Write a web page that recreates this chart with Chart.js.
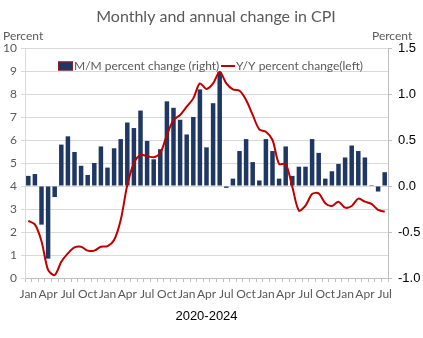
<!DOCTYPE html>
<html>
<head>
<meta charset="utf-8">
<script src="https://cdn.jsdelivr.net/npm/chart.js@4.4.1/dist/chart.umd.min.js"></script>
<style>
  html, body { margin: 0; padding: 0; background: #fff; }
  #wrap { width: 423px; height: 338px; }
</style>
</head>
<body>
<div id="wrap"><canvas id="cpi"></canvas></div>
<script>
// Månadsvis och årlig förändring i KPI, jan 2020 - jul 2024

const years = [2020, 2021, 2022, 2023, 2024];
const monthNames = ["Jan","Feb","Mar","Apr","May","Jun","Jul","Aug","Sep","Oct","Nov","Dec"];
const monthCount = 55;

// M/M (högra axeln)
const momChange = [
  0.11, 0.13, -0.42, -0.79, -0.12, 0.45, 0.54, 0.37, 0.22, 0.12, 0.25, 0.43,
  0.20, 0.41, 0.51, 0.69, 0.63, 0.82, 0.49, 0.29, 0.40, 0.92, 0.85, 0.72,
  0.56, 0.75, 1.05, 0.42, 0.90, 1.24, -0.02, 0.08, 0.38, 0.51, 0.26, 0.06,
  0.51, 0.38, 0.08, 0.43, 0.11, 0.21, 0.21, 0.51, 0.36, 0.08, 0.16, 0.24,
  0.31, 0.44, 0.38, 0.31, 0.01, -0.06, 0.15
];

// Y/Y (vänstra axeln)
const yoyChange = [
  2.48, 2.33, 1.60, 0.35, 0.13, 0.71, 1.07, 1.33, 1.36, 1.19, 1.19, 1.36,
  1.39, 1.65, 2.52, 4.04, 4.99, 5.35, 5.30, 5.25, 5.43, 6.22, 6.87, 7.09,
  7.45, 7.81, 8.46, 8.22, 8.46, 8.97, 8.46, 8.20, 8.14, 7.74, 7.09, 6.46,
  6.36, 6.00, 4.96, 4.96, 3.97, 2.93, 3.15, 3.65, 3.68, 3.25, 3.13, 3.32,
  3.06, 3.13, 3.45, 3.32, 3.22, 2.96, 2.88
];

const labels = [];
for (let i = 0; i < monthCount; i++) {
  labels.push(monthNames[i % 12] + " " + years[Math.floor(i / 12)]);
}

const gray = "#595959";
const font = "Lato, 'Open Sans', sans-serif";
const arial = "'Liberation Sans', Arial, sans-serif";

// --- egna texter: titel, "Percent" och legend inne i diagrammet ---
const extras = {
  id: "extras",
  afterDraw(chart) {
    const c = chart.ctx;
    c.save();
    c.fillStyle = gray;
    c.textBaseline = "middle";
    c.font = "16px " + font;
    c.textAlign = "center";
    c.fillText("Monthly and annual change in CPI", 216, 17);
    c.font = "12px " + font;
    c.textAlign = "left";
    c.fillText("Percent", 3, 36);
    c.fillText("Percent", 372, 36);

    // legend
    const ly = 66;
    c.fillStyle = "#1f3763";
    c.fillRect(58, ly - 4.5, 15, 9);
    c.strokeStyle = "#8b1a2a";
    c.lineWidth = 1;
    c.strokeRect(58.5, ly - 4, 14, 8);
    c.fillStyle = gray;
    c.font = "12px " + font;
    c.fillText("M/M percent change (right)", 74, ly);
    c.strokeStyle = "#c00000";
    c.lineWidth = 2;
    c.beginPath();
    c.moveTo(221, ly);
    c.lineTo(235, ly);
    c.stroke();
    c.fillText("Y/Y percent change(left)", 236, ly);
    c.restore();
  }
};

const ctx = document.getElementById("cpi").getContext("2d");
new Chart(ctx, {
  data: {
    labels,
    datasets: [
      {
        type: "line",
        label: "Y/Y percent change(left)",
        data: yoyChange,
        yAxisID: "y",
        borderColor: "#c00000",
        borderWidth: 2,
        pointRadius: 0,
        tension: 0.3,
        order: 0
      },
      {
        type: "bar",
        label: "M/M percent change (right)",
        data: momChange,
        yAxisID: "y1",
        backgroundColor: "#1f3763",
        barPercentage: 0.68,
        categoryPercentage: 1.0,
        order: 1
      }
    ]
  },
  options: {
    responsive: true,
    maintainAspectRatio: false,
    animation: false,
    layout: { padding: { top: 48, bottom: 14 } },
    plugins: {
      legend: { display: false },
      tooltip: { enabled: false }
    },
    scales: {
      x: {
        offset: true,
        grid: { drawOnChartArea: false, offset: true, tickLength: 4, color: "#bfbfbf" },
        border: { color: "#bfbfbf" },
        ticks: {
          autoSkip: false,
          maxRotation: 0,
          minRotation: 0,
          padding: 5,
          color: gray,
          font: { family: font, size: 12 },
          callback: (v, i) => (i % 3 === 0 ? monthNames[i % 12] : "")
        },
        title: {
          display: true,
          text: "2020-2024",
          color: "#000",
          font: { family: arial, size: 13 },
          padding: { top: 2, bottom: 0 }
        },
        afterFit: (s) => { s.height = 46; }
      },
      y: {
        position: "left",
        min: 0,
        max: 10,
        ticks: {
          stepSize: 1,
          padding: 4,
          color: gray,
          font: { family: font, size: 12 }
        },
        grid: { color: "#d9d9d9", tickLength: 4 },
        border: { color: "#d9d9d9" },
        afterFit: (s) => { s.width = 25; }
      },
      y1: {
        position: "right",
        min: -1.0,
        max: 1.5,
        ticks: {
          stepSize: 0.5,
          padding: 6,
          color: "#000",
          font: { family: arial, size: 13 },
          callback: (v) => v.toFixed(1)
        },
        grid: { drawOnChartArea: false, tickLength: 4, color: "#bfbfbf" },
        border: { color: "#bfbfbf" },
        afterFit: (s) => { s.width = 35; }
      }
    }
  },
  plugins: [extras]
});
</script>
</body>
</html>
